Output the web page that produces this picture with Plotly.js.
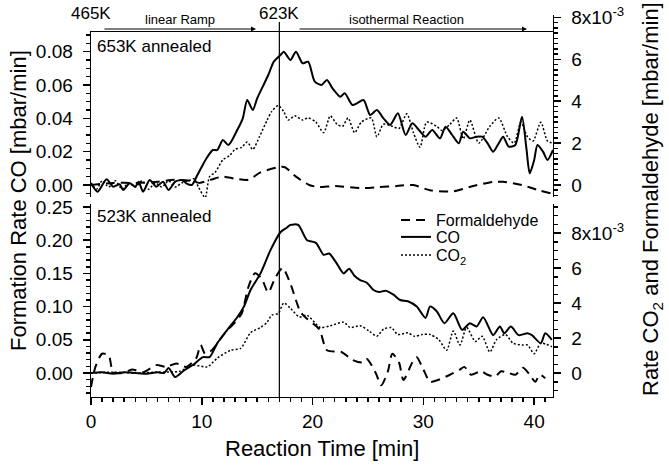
<!DOCTYPE html>
<html>
<head>
<meta charset="utf-8">
<script src="https://cdn.plot.ly/plotly-3.0.1.min.js"></script>
<style>html,body{margin:0;padding:0;background:#fff;}#chart{width:669px;height:465px;}</style>
</head>
<body>
<div id="chart"></div>
<script>
// ---- Top panel (653K annealed) ----
const topCO_t = [0,0.6,1.4,2.0,2.6,2.9,3.5,4.0,4.3,4.7,5.3,5.9,6.5,7.0,7.6,8.2,8.6,9.1,9.6,10.0,10.5,11.0,11.4,11.9,12.4,13.2,13.7,14.1,14.6,15.0,15.5,16.0,16.5,17.1,17.4,18.0,18.5,19.1,19.6,20.2,20.8,21.3,21.8,22.5,22.9,23.6,24.0,24.6,25.2,25.8,26.4,27.0,27.7,28.4,29.0,29.6,30.2,30.8,31.5,32.0,32.6,33.2,33.6,34.2,34.8,35.3,35.8,36.3,36.8,37.2,37.7,38.3,38.9,39.3,39.6,40.0,40.3,40.8,41.2,41.7];
const topCO_v = [0.001,-0.004,0.0034,-0.001,0.0004,-0.003,0.001,-0.001,0.002,-0.004,0.003,-0.001,0.002,-0.003,0.002,0.003,0.001,0.000,0.006,0.011,0.0168,0.021,0.021,0.027,0.024,0.033,0.040,0.051,0.045,0.052,0.059,0.066,0.074,0.078,0.080,0.075,0.080,0.073,0.074,0.062,0.060,0.063,0.058,0.053,0.055,0.048,0.049,0.051,0.042,0.045,0.040,0.036,0.043,0.030,0.037,0.033,0.029,0.033,0.028,0.035,0.030,0.025,0.032,0.028,0.029,0.029,0.025,0.020,0.025,0.029,0.023,0.024,0.041,0.022,0.007,0.015,0.024,0.020,0.015,0.021];

const topCO2_t = [0,0.5,1.0,1.6,2.2,2.8,3.4,4.0,4.6,5.2,5.8,6.4,7.0,7.6,8.2,8.8,9.3,9.7,10.3,10.7,11.2,11.9,12.5,13.0,13.6,14.1,14.6,15.2,15.9,16.3,16.9,17.4,17.8,18.4,19.1,19.6,20.3,21.0,21.6,22.2,22.7,23.2,23.8,24.4,25.3,25.8,26.4,27.2,27.8,28.5,29.1,29.7,30.3,31.2,31.7,32.4,33.0,33.6,34.2,35.0,36.0,36.8,37.6,38.2,38.8,39.4,39.9,40.6,41.2,41.7];
const topCO2_v = [0.0001,-0.0002,0.0002,-0.0001,0.0002,-0.0002,0.0001,-0.0001,0.0002,-0.0002,0.0001,-0.0001,0.0002,-0.0001,0.0001,0.0002,0.0003,-0.0001,-0.0006,0.0004,0.0006,0.0012,0.0014,0.0017,0.0018,0.00205,0.0017,0.0023,0.0031,0.0035,0.0038,0.0035,0.0031,0.0033,0.0031,0.0032,0.0030,0.0025,0.0033,0.0029,0.0028,0.0032,0.0025,0.0030,0.0032,0.0023,0.0029,0.0028,0.0027,0.0034,0.0025,0.0018,0.0030,0.0028,0.0026,0.0029,0.0032,0.0022,0.0031,0.0020,0.0028,0.0032,0.0023,0.0020,0.0030,0.0023,0.0021,0.0030,0.0021,0.0020];

const topHCHO_t = [0,2,4,6,7.5,9.0,9.8,10.8,11.9,13.0,14.2,15.3,16.9,17.5,18.5,19.7,20.6,22.0,24.6,26.0,27.6,29.1,30.6,32.7,34.5,36.3,37.2,38.9,40.4,41.5];
const topHCHO_v = [0.0,0.0001,0.0001,0.00015,0.00025,0.0002,0.0001,0.00025,0.0004,0.0003,0.00025,0.0006,0.00085,0.00085,0.0004,0.0,-0.0001,-0.00005,-0.00015,-0.0001,-0.00005,0.0,-0.00025,-0.0003,-0.00005,0.00015,0.00015,0.0,-0.00025,-0.0004];

// ---- Bottom panel (523K annealed) ----
const botCO_t = [0,1,2,3,4,5,6,6.6,7.0,7.6,8.4,9.2,10.1,10.7,11.4,12.3,13.2,13.8,14.4,15.3,16.2,17.1,17.6,18.0,18.7,19.5,20.3,21.0,21.5,22.1,22.8,23.3,23.8,24.3,24.9,25.5,26.0,26.6,27.3,27.9,28.6,29.4,30.2,30.6,31.2,31.9,32.7,33.5,34.2,34.8,35.4,36.3,36.9,37.3,37.9,38.6,39.4,39.8,40.6,41.0,41.6];
const botCO_v = [0.0,0.001,-0.001,0.001,0.0,-0.001,0.001,0.0,0.0075,-0.006,0.004,0.012,0.024,0.024,0.045,0.065,0.084,0.100,0.125,0.150,0.185,0.212,0.218,0.223,0.223,0.200,0.196,0.178,0.180,0.167,0.150,0.157,0.146,0.140,0.136,0.125,0.122,0.124,0.118,0.110,0.108,0.100,0.083,0.100,0.093,0.075,0.090,0.065,0.075,0.070,0.084,0.057,0.070,0.060,0.070,0.057,0.060,0.057,0.045,0.060,0.050];

const botCO2_t = [0,2,4,6,8,9.2,10.5,11.4,12.6,13.5,14.4,15.3,15.9,16.3,16.9,17.4,18.0,18.8,19.5,20.7,21.6,22.8,23.4,24.3,25.1,25.8,26.4,27.1,27.7,28.6,29.2,29.9,30.6,31.4,32.1,32.7,33.3,33.9,34.7,35.3,36.0,36.6,37.4,38.1,38.9,39.4,40.0,40.6,41.6];
const botCO2_v = [0.0,0.00005,0.0,0.00005,0.0001,0.00046,0.00035,0.00085,0.0013,0.0014,0.0023,0.0026,0.0029,0.0033,0.0034,0.0040,0.0037,0.0032,0.0033,0.0026,0.0027,0.0029,0.0026,0.0027,0.0024,0.0021,0.0025,0.0026,0.0022,0.0023,0.0021,0.0022,0.0022,0.0019,0.0013,0.0024,0.0016,0.0026,0.0018,0.0021,0.0012,0.0019,0.0022,0.0017,0.0016,0.0016,0.0011,0.0017,0.0015];

const botHCHO_t = [0,0.4,1.0,1.6,2.0,2.9,3.7,4.7,5.9,6.8,7.7,8.6,9.5,9.9,10.3,10.9,12.1,13.0,13.6,14.2,14.8,15.4,16.0,16.6,17.3,18.0,18.9,19.5,20.6,21.3,22.6,23.6,24.5,24.9,25.7,26.2,26.8,27.2,27.8,28.2,29.0,29.4,30.0,30.6,31.3,32.4,33.3,33.7,34.3,35.2,35.8,36.5,37.0,37.7,38.3,39.0,39.6,40.1,40.5,41.0];
const botHCHO_v = [-0.0008,0.00035,0.0011,0.0010,0.00005,0.0,0.0002,0.00005,0.00045,0.00035,0.00055,0.00035,0.00085,0.0016,0.0011,0.0013,0.0023,0.0029,0.0034,0.0049,0.0057,0.0054,0.0046,0.0054,0.0060,0.0051,0.0035,0.0031,0.0025,0.0013,0.0012,0.00075,0.0006,0.0008,0.0,-0.0007,0.0001,0.0011,0.0006,-0.0004,0.0006,0.0009,0.0002,-0.0005,-0.0004,-0.0001,0.0002,0.00035,-0.0001,0.0001,-0.0001,-0.0002,0.0001,0.0,-0.0001,0.0003,-0.0001,-0.0005,-0.0001,-0.0003];

// Tick label text for the right-hand axes
const rightTickAlias = {'0.000':'0', '0.002':'2', '0.004':'4', '0.006':'6', '0.008':'8x10<sup>-3</sup>'};

const FONT = 'Arial, "Liberation Sans", Helvetica, sans-serif';
const W = 669, H = 465, ML = 91, MR = 116, MT = 15, MB = 68;
const PH = H - MT - MB; // 382
const PW = W - ML - MR; // 462
function yp(p){ return (H - MB - p) / PH; }
function xp(p){ return (p - ML) / PW; }

const XR = [0, 41.7];
const solid = {color:'black', width:2, shape:'spline', smoothing:0.7};
const dashL = {color:'black', width:2, dash:'9px,6px', shape:'spline', smoothing:0.7};
const dotL = {color:'black', width:1.5, dash:'2px,2px', shape:'spline', smoothing:0.7};

const traces = [
  {x: botHCHO_t, y: botHCHO_v, xaxis:'x', yaxis:'y4', mode:'lines', line:dashL, name:'Formaldehyde', legend:'legend'},
  {x: botCO_t, y: botCO_v, xaxis:'x', yaxis:'y', mode:'lines', line:solid, name:'CO', legend:'legend2'},
  {x: botCO2_t, y: botCO2_v, xaxis:'x', yaxis:'y4', mode:'lines', line:dotL, name:'CO<sub>2</sub>', legend:'legend3'},
  {x: topHCHO_t, y: topHCHO_v, xaxis:'x3', yaxis:'y3', mode:'lines', line:dashL, showlegend:false},
  {x: topCO2_t, y: topCO2_v, xaxis:'x3', yaxis:'y3', mode:'lines', line:dotL, showlegend:false},
  {x: topCO_t, y: topCO_v, xaxis:'x2', yaxis:'y2', mode:'lines', line:solid, showlegend:false}
];

function minorOf(d){ return {tickmode:'linear', tick0:0, dtick:d, ticklen:4, tickwidth:1.5, tickcolor:'black', ticks:'outside', showgrid:false}; }
const axBase = {showline:true, linecolor:'black', linewidth:1.4, ticks:'outside', ticklen:7, tickwidth:1.5, tickcolor:'black',
  showgrid:false, zeroline:false, tickfont:{family:FONT, size:19, color:'black'}};
function legendAt(p){ return {x:xp(396), y:yp(p), xanchor:'left', yanchor:'top', bgcolor:'rgba(0,0,0,0)', borderwidth:0,
    font:{family:FONT, size:16, color:'black'}}; }

const layout = {
  width:W, height:H, margin:{l:ML, r:MR, t:MT, b:MB},
  paper_bgcolor:'white', plot_bgcolor:'rgba(0,0,0,0)',
  font:{family:FONT, color:'black'},
  showlegend:true,
  legend: legendAt(203),
  legend2: legendAt(220),
  legend3: legendAt(238),
  xaxis: Object.assign({}, axBase, {domain:[0,1], range:XR, anchor:'y', tickmode:'linear', tick0:0, dtick:10, minor:minorOf(1)}),
  xaxis2: {domain:[0,1], range:XR, anchor:'y2', side:'top', showline:true, linecolor:'black', linewidth:1.4,
    ticks:'', showticklabels:false, showgrid:false, zeroline:false},
  xaxis3: {domain:[0,1], range:XR, anchor:'y3', visible:false},
  yaxis: Object.assign({}, axBase, {domain:[0, yp(204)], anchor:'x', range:[-0.0361, 0.2545], tickmode:'linear', tick0:0, dtick:0.05,
    tickformat:'.2f', ticklabelstandoff:6, minor:minorOf(0.01)}),
  yaxis2: Object.assign({}, axBase, {domain:[yp(197), yp(32)], anchor:'x2', range:[-0.0072, 0.0918], tickmode:'linear', tick0:0, dtick:0.02,
    tickformat:'.2f', ticklabelstandoff:6, minor:minorOf(0.005)}),
  yaxis3: Object.assign({}, axBase, {domain:[yp(197), 1], anchor:'x3', side:'right', range:[-0.000573, 0.008115], tickmode:'linear', tick0:0, dtick:0.002,
    tickformat:'.3f', labelalias:rightTickAlias, ticklabelstandoff:6, minor:minorOf(0.00025)}),
  yaxis4: Object.assign({}, axBase, {overlaying:'y', anchor:'x', side:'right', range:[-0.001371, 0.009657], tickmode:'linear', tick0:0, dtick:0.002,
    tickformat:'.3f', labelalias:rightTickAlias, ticklabelstandoff:6, minor:minorOf(0.0005)}),
  shapes:[
    {type:'line', xref:'x', yref:'paper', x0:17, x1:17, y0:0, y1:yp(22), line:{color:'black', width:1.2}}
  ],
  annotations:[
    {xref:'x', yref:'paper', x:0, y:yp(13), text:'465K', showarrow:false, font:{size:17}, xanchor:'center', yanchor:'middle'},
    {xref:'x', yref:'paper', x:17, y:yp(13), text:'623K', showarrow:false, font:{size:17}, xanchor:'center', yanchor:'middle'},
    {xref:'paper', yref:'paper', x:xp(180), y:yp(19), text:'linear Ramp', showarrow:false, font:{size:13}, xanchor:'center', yanchor:'middle'},
    {xref:'paper', yref:'paper', x:xp(406), y:yp(19), text:'isothermal Reaction', showarrow:false, font:{size:13}, xanchor:'center', yanchor:'middle'},
    {xref:'paper', yref:'paper', x:xp(256), y:yp(29), ax:-153, ay:0, text:'', showarrow:true, arrowhead:2, arrowsize:1, arrowwidth:1, arrowcolor:'black'},
    {xref:'paper', yref:'paper', x:xp(527), y:yp(29), ax:-229, ay:0, text:'', showarrow:true, arrowhead:2, arrowsize:1, arrowwidth:1, arrowcolor:'black'},
    {xref:'paper', yref:'paper', x:xp(95), y:yp(47), text:'653K annealed', showarrow:false, font:{size:17}, xanchor:'left', yanchor:'middle'},
    {xref:'paper', yref:'paper', x:xp(95), y:yp(216), text:'523K annealed', showarrow:false, font:{size:17}, xanchor:'left', yanchor:'middle'},
    {xref:'paper', yref:'paper', x:xp(18), y:yp(201), text:'Formation Rate CO [mbar/min]', textangle:-90, showarrow:false, font:{size:22}, xanchor:'center', yanchor:'middle'},
    {xref:'paper', yref:'paper', x:xp(652), y:yp(199), text:'Rate CO<sub>2</sub> and Formaldehyde [mbar/min]', textangle:-90, showarrow:false, font:{size:22}, xanchor:'center', yanchor:'middle'},
    {xref:'paper', yref:'paper', x:xp(322), y:yp(448), text:'Reaction Time [min]', showarrow:false, font:{size:22}, xanchor:'center', yanchor:'middle'}
  ]
};

Plotly.newPlot('chart', traces, layout, {staticPlot:true, displayModeBar:false});
</script>
</body>
</html>
